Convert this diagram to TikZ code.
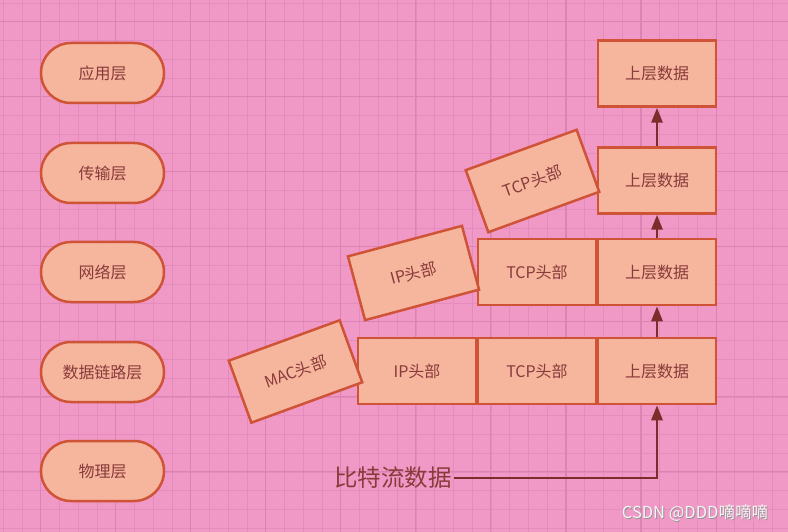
\documentclass[tikz,border=0pt]{standalone}
\usepackage{fontspec}
\setmainfont{Noto Sans CJK SC}
\usetikzlibrary{arrows.meta}
\definecolor{bg}{HTML}{F098C6}
\definecolor{gminor}{HTML}{E68CBC}
\definecolor{gmajor}{HTML}{DB84B4}
\definecolor{boxfill}{HTML}{F5B69D}
\definecolor{boxline}{HTML}{CF5336}
\definecolor{txt}{HTML}{8A3A3A}
\definecolor{arr}{HTML}{7D2C2C}
\tikzset{
  layer/.style={draw=boxline, fill=boxfill, line width=2.5pt, rounded corners=30pt,
    minimum width=123pt, minimum height=60pt, inner sep=0pt, text=txt, font=\fontsize{16}{16}\selectfont},
  pkt/.style={draw=boxline, fill=boxfill, line width=2.5pt,
    minimum width=118pt, minimum height=66pt, inner sep=0pt, text=txt, font=\fontsize{16}{16}\selectfont},
  flow/.style={draw=arr, line width=2.8pt, -{Triangle[width=11pt,length=15pt]}},
  gridminor/.style={draw=gminor, line width=0.8pt},
  gridmajor/.style={draw=gmajor, line width=1.1pt}
}
\begin{document}
\begin{tikzpicture}[x=1pt,y=1pt]
\fill[bg] (0,0) rectangle (788,-532);
\useasboundingbox (0,0) rectangle (788,-532);
% grid
\foreach \i in {0,...,42} {
  \draw[gridminor] ({3.18+18.76*\i},0) -- ({3.18+18.76*\i},-532);
}
\foreach \i in {0,...,28} {
  \draw[gridminor] (0,{-(2.94+18.76*\i)}) -- (788,{-(2.94+18.76*\i)});
}
\foreach \k in {0,...,10} {
  \draw[gridmajor] ({40.7+75.04*\k},0) -- ({40.7+75.04*\k},-532);
}
\foreach \k in {0,...,7} {
  \draw[gridmajor] (0,{-(21.7+75.04*\k)}) -- (788,{-(21.7+75.04*\k)});
}
% layers
\node[layer] (app) at (102.5,-73) {应用层};
\node[layer] (trans) at (102.5,-173) {传输层};
\node[layer] (net) at (102.5,-272) {网络层};
\node[layer] (link) at (102.5,-372) {数据链路层};
\node[layer] (phy) at (102.5,-471) {物理层};
% row 4
\node[pkt] (d4) at (657,-73.5) {上层数据};
% row 3
\node[pkt] (d3) at (657,-180.5) {上层数据};
\node[pkt, rotate=20] (tcp3) at (532.5,-181) {TCP头部};
% row 2
\node[pkt] (d2) at (657,-272) {上层数据};
\node[pkt] (tcp2) at (537,-272) {TCP头部};
\node[pkt, rotate=15] (ip2) at (413.5,-273) {IP头部};
% row 1
\node[pkt] (d1) at (657,-371) {上层数据};
\node[pkt] (tcp1) at (537,-371) {TCP头部};
\node[pkt] (ip1) at (417,-371) {IP头部};
\node[pkt, rotate=20] (mac1) at (295.5,-371.5) {MAC头部};
% bits
\node[text=txt, font=\fontsize{23.5}{23.5}\selectfont, inner sep=2pt] (bits) at (393,-478) {比特流数据};
% arrows
\draw[flow] (bits.east) -- (bits.east -| d1.south) -- (d1.south);
\draw[flow] (d1.north) -- (d2.south);
\draw[flow] (d2.north) -- (d3.south);
\draw[flow] (d3.north) -- (d4.south);
% watermark
\node[text=gray!85, font=\fontsize{16.5}{16.5}\selectfont] at (695.8,-513.8) {CSDN @DDD嘀嘀嘀};
\node[text=white!92!gray, font=\fontsize{16.5}{16.5}\selectfont] (wm) at (695,-513) {CSDN @DDD嘀嘀嘀};
\end{tikzpicture}
\end{document}
